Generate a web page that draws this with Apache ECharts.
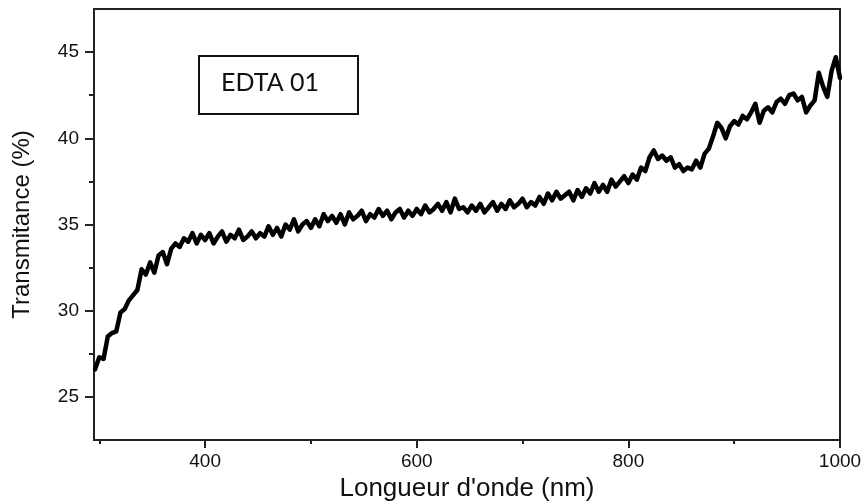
<!DOCTYPE html>
<html>
<head>
<meta charset="utf-8">
<script src="https://cdn.jsdelivr.net/npm/echarts@6/dist/echarts.min.js"></script>
<style>
html,body{margin:0;padding:0;background:#fff;}
#chart{width:865px;height:501px;}
</style>
</head>
<body>
<div id="chart"></div>
<script>
// Wavelength (nm)
var wavelength = [
296,300,304,308,312,316,320,324,328,332,336,340,344,348,352,356,360,364,368,372,376,380,384,388,392,396,
400,404,408,412,416,420,424,428,432,436,440,444,448,452,456,460,464,468,472,476,480,484,488,492,496,
500,504,508,512,516,520,524,528,532,536,540,544,548,552,556,560,564,568,572,576,580,584,588,592,596,
600,604,608,612,616,620,624,628,632,636,640,644,648,652,656,660,664,668,672,676,680,684,688,692,696,
700,704,708,712,716,720,724,728,732,736,740,744,748,752,756,760,764,768,772,776,780,784,788,792,796,
800,804,808,812,816,820,824,828,832,836,840,844,848,852,856,860,864,868,872,876,880,884,888,892,896,
900,904,908,912,916,920,924,928,932,936,940,944,948,952,956,960,964,968,972,976,980,984,988,992,996,1000
];
// Transmittance (%)
var transmittance = [
26.6,27.3,27.2,28.5,28.7,28.8,29.9,30.1,30.6,30.9,31.2,32.4,32.1,32.8,32.2,33.2,33.4,32.7,33.6,33.9,33.7,34.2,34.0,34.5,33.9,34.4,
34.1,34.5,33.9,34.3,34.6,34.0,34.4,34.2,34.7,34.1,34.3,34.6,34.2,34.5,34.3,34.9,34.4,34.8,34.3,35.0,34.7,35.3,34.6,35.0,35.2,
34.8,35.3,34.9,35.6,35.2,35.5,35.1,35.6,35.0,35.7,35.3,35.5,35.8,35.2,35.6,35.4,35.9,35.5,35.8,35.3,35.7,35.9,35.4,35.8,35.5,
35.9,35.6,36.1,35.7,35.9,36.2,35.8,36.3,35.7,36.5,35.9,36.0,35.7,36.1,35.8,36.2,35.7,36.0,36.3,35.8,36.2,35.9,36.4,36.0,36.2,
36.5,36.0,36.3,36.1,36.6,36.2,36.8,36.4,36.9,36.5,36.7,36.9,36.4,37.0,36.6,37.1,36.8,37.4,36.9,37.3,36.9,37.6,37.2,37.5,37.8,
37.4,37.9,37.6,38.3,38.1,38.9,39.3,38.8,39.0,38.7,38.9,38.3,38.5,38.1,38.3,38.2,38.7,38.3,39.1,39.4,40.1,40.9,40.6,40.0,40.7,
41.0,40.8,41.3,41.1,41.5,42.0,40.9,41.6,41.8,41.5,42.1,42.3,42.0,42.5,42.6,42.2,42.4,41.5,41.9,42.2,43.8,43.0,42.4,43.9,44.7,43.5
];
var xLabelValues = [400, 600, 800, 1000];
var xMinorTicks = [300, 500, 700, 900];
var yLabelValues = [25, 30, 35, 40, 45];
var yMinorTicks = [27.5, 32.5, 37.5, 42.5];

var seriesData = wavelength.map(function (w, i) { return [w, transmittance[i]]; });

var chart = echarts.init(document.getElementById('chart'), null, {renderer: 'canvas'});
var axisColor = '#222';
chart.setOption({
  animation: false,
  backgroundColor: '#fff',
  grid: {left: 94, right: 25, top: 9, bottom: 61, show: true, borderColor: axisColor, borderWidth: 2,
    backgroundColor: 'transparent', containLabel: false, outerBoundsMode: 'none'},
  xAxis: [{
    type: 'value', min: 295, max: 1000,
    name: "Longueur d'onde (nm)", nameLocation: 'middle', nameGap: 36,
    nameTextStyle: {fontFamily: 'Liberation Sans', fontSize: 26, color: '#111'},
    axisLine: {show: true, onZero: false, lineStyle: {color: axisColor, width: 2}},
    axisTick: {show: true, inside: false, length: 8, customValues: xLabelValues, lineStyle: {color: axisColor, width: 2}},
    axisLabel: {customValues: xLabelValues, margin: 12, fontFamily: 'Liberation Sans', fontSize: 19, color: '#111',
      formatter: function (v) { return String(v); }},
    splitLine: {show: false}
  }, {
    type: 'value', min: 295, max: 1000, position: 'bottom',
    axisLine: {show: false},
    axisTick: {show: true, inside: false, length: 4, customValues: xMinorTicks, lineStyle: {color: axisColor, width: 2}},
    axisLabel: {show: false},
    splitLine: {show: false}
  }],
  yAxis: [{
    type: 'value', min: 22.5, max: 47.5,
    name: 'Transmitance (%)', nameLocation: 'middle', nameGap: 60, nameRotate: 90,
    nameTextStyle: {fontFamily: 'Liberation Sans', fontSize: 24, color: '#111'},
    axisLine: {show: true, onZero: false, lineStyle: {color: axisColor, width: 2}},
    axisTick: {show: true, inside: false, length: 9, customValues: yLabelValues, lineStyle: {color: axisColor, width: 2}},
    axisLabel: {customValues: yLabelValues, margin: 15, fontFamily: 'Liberation Sans', fontSize: 19, color: '#111',
      formatter: function (v) { return String(v); }},
    splitLine: {show: false}
  }, {
    type: 'value', min: 22.5, max: 47.5, position: 'left',
    axisLine: {show: false},
    axisTick: {show: true, inside: false, length: 5, customValues: yMinorTicks, lineStyle: {color: axisColor, width: 2}},
    axisLabel: {show: false},
    splitLine: {show: false}
  }],
  graphic: [{
    type: 'rect', left: 198, top: 55, z: 100,
    shape: {width: 159, height: 58},
    style: {fill: '#fff', stroke: '#111', lineWidth: 2}
  }, {
    type: 'text', left: 221, top: 70, z: 101,
    style: {text: 'EDTA 01', font: '25px Lato', fill: '#111'}
  }],
  series: [{
    type: 'line', xAxisIndex: 0, yAxisIndex: 0,
    data: seriesData, showSymbol: false, symbol: 'none',
    lineStyle: {color: '#000', width: 4.5, cap: 'round', join: 'round'},
    clip: true
  }]
});
</script>
</body>
</html>
